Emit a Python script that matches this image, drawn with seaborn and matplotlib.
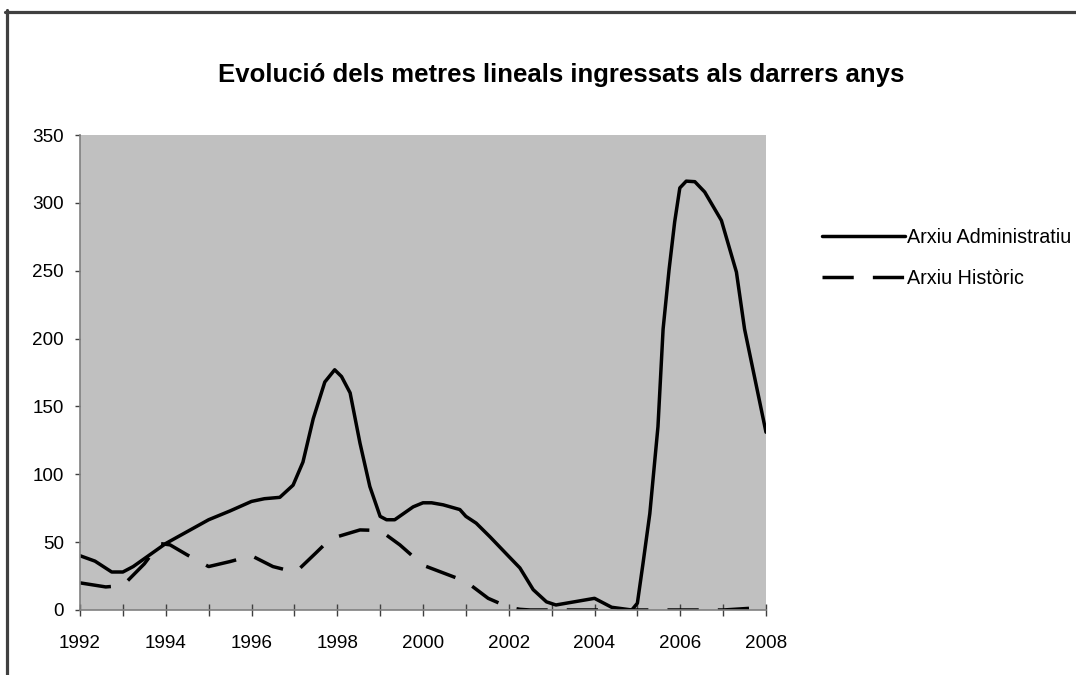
import pandas as pd
import seaborn as sns
import matplotlib.pyplot as plt
from matplotlib.lines import Line2D


# valors llegits del gràfic (metres lineals)
adm_years = [1992, 1992.35, 1992.74, 1993.0, 1993.24, 1994.0, 1995.0, 1995.5, 1996.0,
             1996.3, 1996.66, 1996.97, 1997.2, 1997.44, 1997.71, 1997.94, 1998.1,
             1998.3, 1998.53, 1998.76, 1999.0, 1999.15, 1999.34, 1999.77, 2000.0,
             2000.2, 2000.47, 2000.86, 2001.0, 2001.24, 2001.56, 2002.0, 2002.26,
             2002.57, 2002.88, 2003.1, 2004.0, 2004.4, 2004.87, 2005.0, 2005.13,
             2005.29, 2005.48, 2005.6, 2005.74, 2005.87, 2005.99, 2006.14, 2006.34,
             2006.57, 2006.96, 2007.31, 2007.5, 2008.0]
adm_values = [40, 36, 28, 28, 32, 49, 66.5, 73, 80,
              82, 83, 92, 109, 141, 168, 177, 172,
              160, 123, 91, 69, 66.5, 66.5, 76, 79,
              79, 77.5, 74, 69, 64, 54, 39.5, 31,
              15, 6, 3.7, 8.6, 2, 0, 5, 34,
              71, 135, 207, 251, 286, 311, 316, 315.6,
              308, 287, 249, 207, 131]

hist_years = [1992, 1992.6, 1993.0, 1993.5, 1993.86, 1994.1, 1994.5, 1995.0, 1995.5,
              1996.0, 1996.5, 1997.0, 1997.13, 1997.5, 1997.75, 1998.0, 1998.53,
              1999.0, 1999.46, 2000.0, 2000.6, 2001.0, 2001.52, 2002.0, 2002.26,
              2002.5, 2003, 2004, 2005, 2006, 2007, 2007.5, 2008]
hist_values = [20, 17, 18, 34, 49, 48, 40.6, 32, 35.7,
               40, 32, 28, 30.8, 42, 49.7, 54, 59,
               58.6, 48, 33, 25.8, 21, 8.6, 2, 0.5,
               0, 0, 0, 0, 0, 0, 1, 2]

series = ['Arxiu Administratiu', 'Arxiu Històric']
x_ticks = list(range(1992, 2009))
x_labels = [str(y) if y % 2 == 0 else '' for y in x_ticks]
y_ticks = list(range(0, 351, 50))

df = pd.concat([
    pd.DataFrame({'any': adm_years, 'metres': adm_values, 'serie': series[0]}),
    pd.DataFrame({'any': hist_years, 'metres': hist_values, 'serie': series[1]}),
])

sns.set_theme(style='ticks')
plt.rcParams['font.family'] = ['Liberation Sans', 'DejaVu Sans']
plt.rcParams['text.color'] = 'black'

fig = plt.figure(figsize=(10.76, 6.75), dpi=100)
ax = fig.add_axes([80 / 1076, 65 / 675, 686 / 1076, 475 / 675])
ax.set_facecolor('#C0C0C0')

sns.lineplot(data=df, x='any', y='metres', hue='serie', style='serie',
             palette=['black', 'black'], dashes=['', (9, 5.5)],
             linewidth=2.5, estimator=None, sort=False, ax=ax)

ax.set_xlim(1992, 2008)
ax.set_ylim(0, 350)
ax.set_xticks(x_ticks)
ax.set_xticklabels(x_labels)
ax.set_yticks(y_ticks)
ax.set_xlabel('')
ax.set_ylabel('')

for side in ['top', 'right']:
    ax.spines[side].set_visible(False)
for side in ['left', 'bottom']:
    ax.spines[side].set_color('#808080')
    ax.spines[side].set_linewidth(1.2)

ax.tick_params(axis='x', direction='inout', length=8.6, width=1, color='#404040',
               labelsize=13.6, pad=14, labelcolor='black')
ax.tick_params(axis='y', direction='out', length=3.6, width=1, color='#404040',
               labelsize=13.6, pad=8, labelcolor='black')

# llegenda a la dreta
sns.move_legend(ax, 'center left', bbox_to_anchor=(822 / 1076, 1 - 258 / 675),
                bbox_transform=fig.transFigure, title=None, frameon=False,
                handlelength=4.2, handletextpad=0.1, labelspacing=1.1,
                borderaxespad=0, borderpad=0, fontsize=14.2, labelcolor='black')

fig.text(561 / 1076, 1 - 75 / 675, 'Evolució dels metres lineals ingressats als darrers anys',
         ha='center', va='center', fontsize=18.5, fontweight='bold', color='black')

# vora del gràfic
fig.add_artist(Line2D([5 / 1076, 1], [1 - 11.5 / 675] * 2, transform=fig.transFigure,
                      color='#404040', linewidth=2.3))
fig.add_artist(Line2D([6.5 / 1076] * 2, [0, 1 - 10 / 675], transform=fig.transFigure,
                      color='#404040', linewidth=2.3))

fig.savefig('out.png', dpi=100, facecolor='white')
